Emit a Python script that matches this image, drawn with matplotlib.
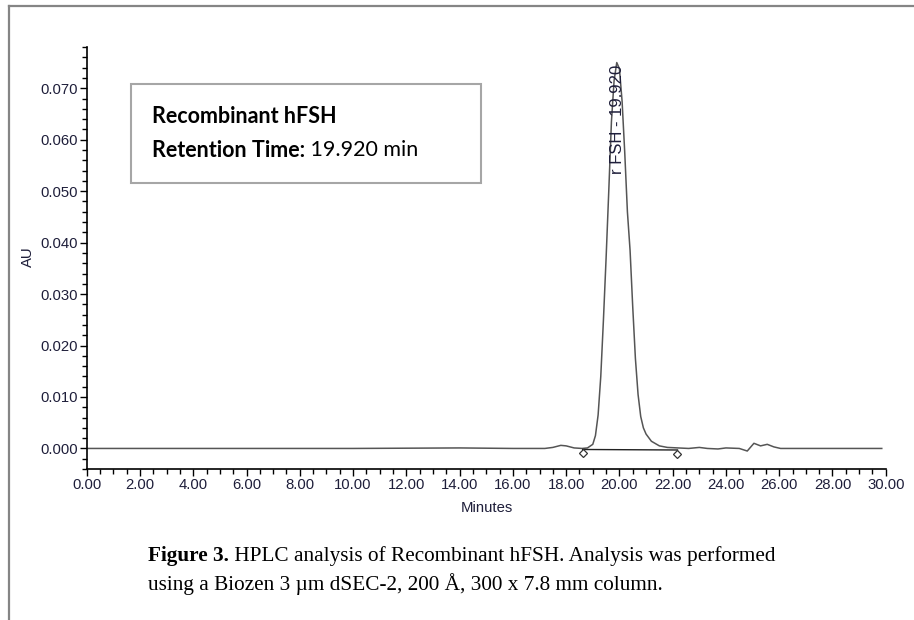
import matplotlib
matplotlib.use("Agg")
import matplotlib.pyplot as plt
from matplotlib.lines import Line2D
from matplotlib.patches import Rectangle
from matplotlib.ticker import MultipleLocator, FormatStrFormatter

# chromatogram trace (minutes, AU)
time = [0.0, 5.0, 10.0, 14.0, 16.0, 17.2, 17.5, 17.8, 18.0, 18.3, 18.6, 18.8,
        19.0, 19.1, 19.2, 19.3, 19.4, 19.5, 19.6, 19.7, 19.8, 19.9, 20.0, 20.1,
        20.2, 20.3, 20.4, 20.5, 20.6, 20.7, 20.8, 20.9, 21.0, 21.2, 21.5, 21.8,
        22.2, 22.6, 23.0, 23.3, 23.7, 24.0, 24.5, 24.8, 25.05, 25.3, 25.55, 25.8,
        26.05, 27.0, 29.85]
au = [0.0, 0.0, 0.0, 0.0001, 0.0, 0.0, 0.0002, 0.0006, 0.0005, 0.0001, 0.0, 0.0001,
      0.0008, 0.0025, 0.0065, 0.0140, 0.0250, 0.0370, 0.0500, 0.0635, 0.0715, 0.0750, 0.0738, 0.0675,
      0.0575, 0.0460, 0.0385, 0.0275, 0.0175, 0.0105, 0.0062, 0.0040, 0.0028, 0.0014, 0.0005, 0.0002,
      0.0001, 0.0, 0.0002, 0.0, -0.0001, 0.0001, 0.0, -0.0005, 0.0010, 0.0005, 0.0008, 0.0003,
      0.0, 0.0, 0.0]

peak_name = "r FSH"
peak_rt = 19.920
peak_top = 0.0748
base_start = [18.62, -0.0002]
base_end = [22.18, -0.0003]

label_col = "#1e1e3a"

plt.rcParams['font.family'] = ['Liberation Sans', 'DejaVu Sans']
fig = plt.figure(figsize=(9.14, 6.2), dpi=100)
ax = fig.add_axes([0.0949, 0.2435, 0.8742, 0.6805])

ax.plot(time, au, color='#555555', lw=1.1)
ax.plot([base_start[0], base_end[0]], [base_start[1], base_end[1]], color='#222222', lw=1)
for bx, by in (base_start, base_end):
  ax.plot([bx, bx], [by, by - 0.0004], color='#222222', lw=0.8)
  ax.plot(bx, by - 0.0007, marker='D', ms=4, mfc='white', mec='#333333', mew=0.9)

ax.text(peak_rt + 0.02, peak_top - 0.0002, peak_name + " - " + "%.3f" % peak_rt,
        rotation=90, ha='center', va='top', fontsize=12, color=label_col)

ax.set_xlim(0, 30)
ax.set_ylim(-0.004, 0.078)
ax.xaxis.set_major_locator(MultipleLocator(2))
ax.xaxis.set_minor_locator(MultipleLocator(0.5))
ax.yaxis.set_major_locator(MultipleLocator(0.01))
ax.yaxis.set_minor_locator(MultipleLocator(0.002))
ax.xaxis.set_major_formatter(FormatStrFormatter('%.2f'))
ax.yaxis.set_major_formatter(FormatStrFormatter('%.3f'))
ax.set_yticks([0.0, 0.01, 0.02, 0.03, 0.04, 0.05, 0.06, 0.07])
ax.tick_params(which='major', length=5, width=1, labelsize=10.7, labelcolor=label_col, pad=1.5)
ax.tick_params(which='minor', length=3.5, width=1)
for s in ('top', 'right'):
  ax.spines[s].set_visible(False)
for s in ('left', 'bottom'):
  ax.spines[s].set_linewidth(1.2)

fig.text(0.0306, 0.5855, "AU", rotation=90, ha='center', va='center', fontsize=10.7, color=label_col)
fig.text(0.5328, 0.1806, "Minutes", ha='center', va='center', fontsize=10.7, color=label_col)

# info box
ax.add_patch(Rectangle((0.0554, 0.6777), 0.4381, 0.2343, transform=ax.transAxes,
                       fill=False, ec='#a6a6a6', lw=1.5))
box_font = ['Lato', 'DejaVu Sans']
ax.text(0.0817, 0.8365, "Recombinant hFSH", transform=ax.transAxes, ha='left', va='center',
        fontsize=15.5, fontweight='bold', family=box_font)
t1 = ax.text(0.0817, 0.7560, "Retention Time:", transform=ax.transAxes, ha='left', va='center',
             fontsize=15.5, fontweight='bold', family=box_font)
ax.annotate(" %.3f min" % peak_rt, xy=(1, 0.5), xycoords=t1, ha='left', va='center',
            fontsize=15.5, family=box_font)

# caption
serif = ['Liberation Serif', 'DejaVu Serif']
c1 = fig.text(0.162, 0.1032, "Figure 3.", ha='left', va='center', fontsize=15.3,
              fontweight='bold', family=serif)
ax.annotate(" HPLC analysis of Recombinant hFSH. Analysis was performed", xy=(1, 0.5),
            xycoords=c1, ha='left', va='center', fontsize=15.3, family=serif,
            annotation_clip=False)
fig.text(0.162, 0.0581, "using a Biozen 3 \u00b5m dSEC-2, 200 \u00c5, 300 x 7.8 mm column.",
         ha='left', va='center', fontsize=15.3, family=serif)

# page frame
fig.add_artist(Line2D([0.0098, 1.0], [0.9903, 0.9903], color='#858585', lw=1.6))
fig.add_artist(Line2D([0.0098, 0.0098], [0.0, 0.9903], color='#858585', lw=1.6))

fig.savefig("out.png", dpi=100)
